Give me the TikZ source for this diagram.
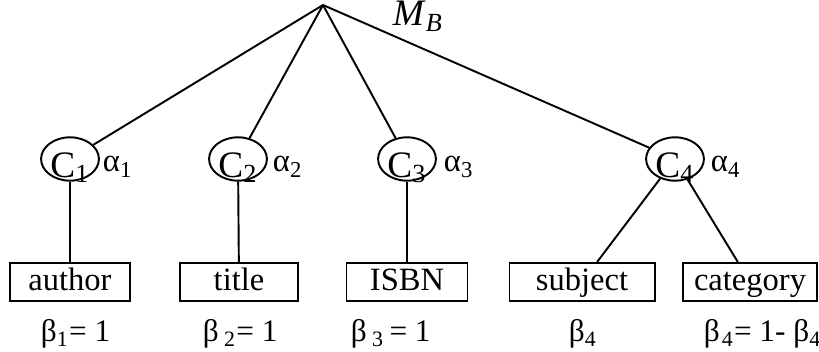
\documentclass[tikz,border=0pt]{standalone}
\usepackage{fontspec}
\setmainfont{Liberation Serif}
\usepackage{tikz}
\usetikzlibrary{shapes.geometric}

\begin{document}
\begin{tikzpicture}[x=0.415pt,y=-0.415pt,line width=0.8pt,font=\fontsize{13.5}{15}\selectfont]
      \tikzstyle{every concept}=[ellipse,draw,minimum width=24pt,minimum height=18pt,inner sep=0pt,font=\fontsize{15.5}{17}\selectfont]
      \tikzstyle{every attribute}=[rectangle,draw,minimum height=15.8pt,inner sep=0pt,text height=9pt,text depth=2pt]
      \tikzstyle{every weight}=[anchor=base west,inner sep=0pt]
      \tikzstyle{every beta}=[every weight,font=\fontsize{13}{15}\selectfont]
      \useasboundingbox (0,0) rectangle (819,352);

      % Root of the tree
      \coordinate (root) at (323,5);
      \node[every weight,font=\fontsize{15.5}{17}\selectfont] (MB) at (392,26) {\textit{M}\textsubscript{\textit{B}}};

      % Concepts C1..C4 with their alpha weights
      \foreach \i/\x in {1/70,2/238,3/407,4/675}
        \node[every concept] (C-\i) at (\x,159) {\raisebox{-7.5pt}[0pt][0pt]{C\textsubscript{\i}}};
      \foreach \i/\x in {1/102,2/272,3/443,4/710}
        \node[every weight] (A-\i) at (\x,172) {α\textsubscript{\i}};

      % Attribute boxes
      \node[every attribute,minimum width=49.8pt] (B-1) at (70,282) {author};
      \node[every attribute,minimum width=49pt] (B-2) at (239,282) {title};
      \node[every attribute,minimum width=50.2pt] (B-3) at (407,282) {ISBN};
      \node[every attribute,minimum width=60.2pt] (B-4) at (582,282) {subject};
      \node[every attribute,minimum width=55.6pt] (B-5) at (750,282) {category};

      % Beta weights under the boxes
      \node[every beta] (W-1) at (40,342) {β\textsubscript{1}= 1};
      \node[every beta] (W-2) at (202,342) {β\,\textsubscript{2}= 1};
      \node[every beta] (W-3) at (350,342) {β\,\textsubscript{3}\,= 1};
      \node[every beta] (W-4) at (568,342) {β\textsubscript{4}};
      \node[every beta] (W-5) at (703,342) {β\kern0.8pt\textsubscript{4}= 1- β\textsubscript{4}};

      % Connections: root to concepts
      \foreach \i in {1,...,4}
        \draw (root) -- (C-\i);

      % Connections: concepts to attributes
      \foreach \i in {1,...,3}
        \draw (C-\i) -- (B-\i);
      \draw (C-4) -- (B-4);
      \draw (C-4) -- (B-5);
\end{tikzpicture}
\end{document}
